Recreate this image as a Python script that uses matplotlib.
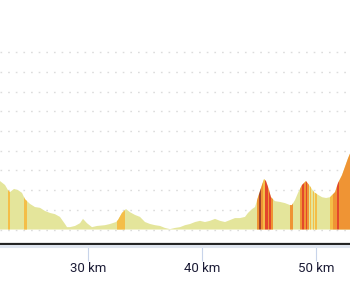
import matplotlib
matplotlib.use("Agg")
import matplotlib.pyplot as plt
from matplotlib.lines import Line2D
from matplotlib.patches import Polygon

# Elevation profile (distance in km, elevation in m)
dist = [22.28, 22.72, 22.98, 23.16, 23.51, 23.86, 24.21, 24.47, 24.91, 25.35,
        25.79, 26.23, 26.67, 27.10, 27.54, 27.98, 28.16, 28.42, 28.86, 29.30,
        29.56, 29.91, 30.35, 30.79, 31.49, 31.93, 32.46, 32.63, 32.98, 33.33,
        33.68, 34.12, 34.56, 35.00, 35.44, 35.88, 36.32, 36.75, 37.19, 37.63,
        38.07, 38.51, 38.95, 39.39, 39.82, 40.26, 40.70, 41.14, 41.58, 42.02,
        42.46, 42.89, 43.33, 43.77, 44.03, 44.39, 44.65, 44.91, 45.26, 45.44,
        45.61, 45.79, 46.05, 46.40, 46.84, 47.28, 47.72, 47.89, 48.16, 48.42,
        48.77, 49.12, 49.47, 49.82, 50.18, 50.53, 50.88, 51.23, 51.67, 51.93,
        52.28, 52.54, 52.81, 53.00]
elev = [223, 213, 200, 195, 203, 200, 193, 177, 165, 157,
        155, 147, 142, 139, 132, 114, 106, 106, 109, 116,
        127, 116, 106, 109, 111, 114, 119, 124, 142, 152,
        144, 137, 132, 119, 114, 111, 109, 104, 101, 104,
        106, 111, 114, 119, 122, 119, 122, 127, 122, 119,
        124, 129, 129, 132, 142, 152, 157, 182, 213, 228,
        223, 208, 182, 172, 170, 167, 162, 162, 175, 193,
        213, 223, 210, 195, 188, 182, 180, 182, 195, 218,
        238, 259, 281, 294]

# Steep sections: start km, end km, gradient class
seg_start = [22.96, 24.37, 32.50, 44.80, 45.00, 45.17, 45.35, 45.53, 45.79,
             45.88, 46.05, 47.70, 48.60, 48.77, 48.95, 49.12, 49.21, 49.45,
             49.70, 49.91, 51.20, 51.49, 51.84, 52.00]
seg_end = [23.20, 24.62, 33.28, 45.00, 45.17, 45.35, 45.53, 45.79, 45.88,
           46.05, 46.25, 48.00, 48.77, 48.95, 49.12, 49.21, 49.40, 49.58,
           49.82, 50.10, 51.49, 51.84, 52.00, 53.00]
seg_class = [1, 1, 1, 2, 4, 2, 1, 3, 2,
             3, 2, 2, 2, 3, 2, 3, 2, 1,
             1, 1, 1, 2, 3, 2]

class_colors = {0: "#e4e59b", 1: "#f4be48", 2: "#ef9434", 3: "#e3472b", 4: "#a3432a"}
xticks = [30, 40, 50]

fig = plt.figure(figsize=(3.5, 2.86), dpi=100)
ax = fig.add_axes([0, 1 - 243.5 / 286, 1, 243.5 / 286])

ax.set_xlim(22.28, 52.98)
ax.set_ylim(64.5, 682.5)

# base fill
ax.fill_between(dist, 100, elev, color=class_colors[0], lw=0, zorder=2)
verts = [(dist[0], 100)] + list(zip(dist, elev)) + [(dist[-1], 100)]
clip = Polygon(verts, closed=True, transform=ax.transData)

for s, e, c in zip(seg_start, seg_end, seg_class):
    span = ax.axvspan(s, e, color=class_colors[c], lw=0, zorder=3)
    span.set_clip_path(clip)

# dotted grid
ax.set_yticks([100, 150, 200, 250, 300, 350, 400, 450, 500, 550])
ax.yaxis.grid(True, color="#dcdcdc", lw=1.0, linestyle=(0, (1.2, 4.3)), zorder=0)
ax.tick_params(axis="y", left=False, labelleft=False)

for side in ["top", "left", "right"]:
    ax.spines[side].set_visible(False)
ax.spines["bottom"].set_color("#222222")
ax.spines["bottom"].set_linewidth(1.6)

ax.set_xticks(xticks)
ax.set_xticklabels([f"{t} km" for t in xticks], fontfamily="Roboto", fontsize=9.5,
                   color="#1b1b35")
ax.tick_params(axis="x", direction="out", length=12.5, width=0.8, color="#c8d4ea", pad=0.5)

# light line under the axis
fig.add_artist(Line2D([0, 1], [1 - 246 / 286, 1 - 246 / 286], transform=fig.transFigure,
                      color="#dfe5ef", lw=2.2, zorder=1))

fig.savefig("out.png", dpi=100)
